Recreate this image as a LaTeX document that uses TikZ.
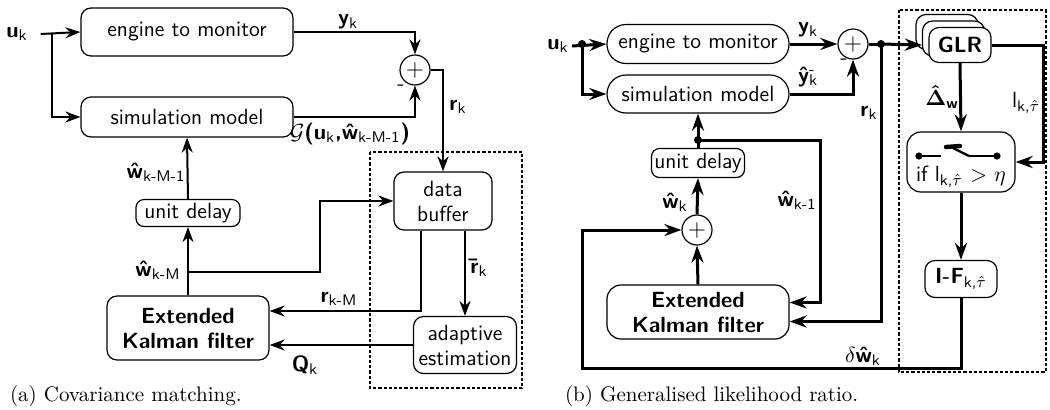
\documentclass[tikz,border=0pt]{standalone}
\usepackage{tikz}
\usetikzlibrary{arrows.meta}
\usetikzlibrary{positioning}
\usetikzlibrary{calc}
\tikzstyle{block}=[draw,fill=white,rounded corners=5pt,inner sep=1pt,align=center,line width=0.6pt]
\tikzstyle{sum}=[draw,circle,minimum size=15pt,inner sep=0pt,line width=0.6pt,font=\fontsize{13}{13}\selectfont]
\tikzstyle{sig}=[-{Stealth[length=7.5pt,width=5.5pt]}]
\tikzstyle{lab}=[inner sep=1pt]
\tikzstyle{frame}=[line width=0.6pt,dash pattern=on 1.6pt off 1pt]
\tikzstyle{heavy}=[font=\fontsize{11}{12.5}\selectfont\sffamily\bfseries]
\newcommand{\vb}[1]{{\bfseries #1}}

\begin{document}
\begin{tikzpicture}[x=0.5pt,y=-0.5pt,font=\fontsize{11}{12.5}\selectfont\sffamily]
	\useasboundingbox (0,0) rectangle (1050,409);
	% (a) covariance matching
	\begin{scope}[line width=1pt]
	\node [block,minimum width=106pt,minimum height=24pt] (enga) at (187,32) {engine to monitor};
	\node [block,minimum width=106pt,minimum height=20pt] (sima) at (187,117) {simulation model};
	\node [sum] (suma) at (415,70) {$+$};
	\node [block,minimum width=49pt,minimum height=29pt] (bufa) at (443,201) {data\\buffer};
	\node [block,minimum width=52pt,minimum height=13.5pt,rounded corners=4pt] (delaya) at (188,213) {unit delay};
	\node [block,heavy,minimum width=81pt,minimum height=32pt] (ekfa) at (188,328) {Extended\\Kalman filter};
	\node [block,minimum width=51.5pt,minimum height=28.5pt] (adapta) at (465,345) {adaptive\\estimation};
	\node [lab] (uka) at (17,34) {\vb{u}\textsubscript{k}};
	\coordinate (bra) at (52,34);
	\coordinate (bwa) at (188,272);
	\draw [sig] ([xshift=5pt]uka.east) -- (enga.west);
	\draw [sig] (bra) |- (sima.west);
	\draw [sig] (enga.east) -| (suma.north);
	\draw [sig] (sima.east) -| (suma.south);
	\draw [sig] (suma.east) -| (bufa.north);
	\draw [sig] (ekfa.north) -- (delaya.south);
	\draw [sig] (delaya.north) -- (sima.south);
	\draw [sig] (bwa) -- ++(132,0) |- (bufa.west);
	\draw [sig] ([xshift=-11pt]bufa.south) |- ([yshift=8.5pt]ekfa.east);
	\draw [sig] (adapta.north |- bufa.south) -- (adapta.north);
	\draw [sig] (adapta.west) -- (ekfa.east |- adapta.west);
	\end{scope}
	\node [lab] (lya) at (348,22) {\vb{y}\textsubscript{k}};
	\node [lab] (lga) at (350,134) {$\mathcal{G}$\vb{(u}\textsubscript{k}\vb{,\^w}\textsubscript{k-M-1}\vb{)}};
	\node [lab] (lma) at (401,88) {-};
	\node [lab] (lra) at (458,107) {\vb{r}\textsubscript{k}};
	\node [lab] (lw1a) at (156,172) {\vb{\^w}\textsubscript{k-M-1}};
	\node [lab] (lw2a) at (158,270) {\vb{\^w}\textsubscript{k-M}};
	\node [lab] (lrma) at (339,299) {\vb{r}\textsubscript{k-M}};
	\node [lab] (lrba) at (479,268) {\vb{\=r}\textsubscript{k}};
	\node [lab] (lqa) at (305,365) {\vb{Q}\textsubscript{k}};
	\draw [frame] (370,152) rectangle (522,388);
	\node [anchor=west,font=\rmfamily\fontsize{10.5}{12}\selectfont] (capa) at (3,396) {(a) Covariance matching.};

	% (b) generalised likelihood ratio
	\begin{scope}[line width=1.5pt,sig/.style={-{Stealth[length=8.5pt,width=6pt]}}]
	\node [block,minimum width=91pt,minimum height=19.5pt,rounded corners=9.5pt] (engb) at (698,44) {engine to monitor};
	\node [block,minimum width=91pt,minimum height=19pt,rounded corners=9.5pt] (simb) at (698,94) {simulation model};
	\node [block,minimum width=46.5pt,minimum height=14.5pt,rounded corners=4pt] (delayb) at (698,163) {unit delay};
	\node [sum] (sumb2) at (697,230) {$+$};
	\node [sum] (sumb1) at (853,44) {$+$};
	\node [block,heavy,minimum width=91pt,minimum height=27pt,rounded corners=7pt] (ekfb) at (698,312) {Extended\\Kalman filter};
	\node [block,minimum width=31pt,minimum height=17.5pt] (glrb2) at (947,32) {};
	\node [block,minimum width=31pt,minimum height=17.5pt] (glrb1) at (953.5,38.5) {};
	\node [block,heavy,minimum width=31pt,minimum height=17.5pt] (glr) at (960,45) {GLR};
	\node [block,minimum width=54pt,minimum height=30pt,rounded corners=7pt] (swb) at (961,162) {};
	\node [block,minimum width=36pt,minimum height=18.5pt] (ifb) at (961,279) {\vb{I-F}\textsubscript{k,$\hat\tau$}};
	\node [lab] (ukb) at (558,46) {\vb{u}\textsubscript{k}};
	\coordinate (brb) at (582,44);
	\coordinate (rdot) at (881,44);
	\coordinate (wdot) at (698,140);
	\coordinate (loop) at (582,368);
	\draw [sig] (ukb.east) -- (engb.west);
	\draw [sig] (brb) |- (simb.west);
	\draw [sig] (engb.east) -- (sumb1.west);
	\draw [sig] (simb.east) -| (sumb1.south);
	\draw (sumb1.east) -- (rdot);
	\draw [sig] (rdot) -- (glr.west -| glrb1.west);
	\draw [sig] (rdot) |- ([yshift=-4.75pt]ekfb.east);
	\draw [sig] (delayb.north) -- (simb.south);
	\draw [sig] (wdot) -- ++(122,0) |- ([yshift=4.75pt]ekfb.east);
	\draw [sig] (sumb2.north) -- (delayb.south);
	\draw [sig] (ekfb.north) -- (sumb2.south);
	\draw [sig] (glr.south) -- (swb.north);
	\draw [sig] (glr.east) -- ++(52,0) |- (swb.east);
	\draw [sig] (swb.south) -- (ifb.north);
	\draw [sig] (ifb.south) |- (loop) |- (sumb2.west);
	\end{scope}
	\foreach \p in {brb,rdot,wdot}
		\fill (\p) circle (2pt);
	% switch symbol
	\draw [line width=0.8pt] (919,156) -- (941,156) (969,156) -- (997,156);
	\fill (919,156) circle (1.8pt) (997,156) circle (1.8pt);
	\draw [line width=1.2pt] (951,147) -- (969,156);
	\draw [line width=2.2pt,line cap=round] (946,147) -- (960,146);
	\node [lab] (swtxt) at (961,177) {if l\textsubscript{k,$\hat\tau$} $>$ $\eta$};
	\node [lab] (lyb) at (808,30) {\vb{y}\textsubscript{k}};
	\node [lab] (lyhb) at (808,77) {\vb{\^y}\rlap{\textsuperscript{-}}\textsubscript{k}};
	\node [lab] (lmb) at (844,62) {-};
	\node [lab] (lrb) at (869,113) {\vb{r}\textsubscript{k}};
	\node [lab] (lwkb) at (675,202) {\vb{\^w}\textsubscript{k}};
	\node [lab] (lwk1b) at (797,200) {\vb{\^w}\textsubscript{k-1}};
	\node [lab] (ldb) at (942,97) {$\mathbf{\hat{\Delta}}$\textsubscript{\vb{w}}};
	\node [lab] (llb) at (1026,103) {l\textsubscript{k,$\hat\tau$}};
	\node [lab] (ldwb) at (863,356) {$\delta$\vb{\^w}\textsubscript{k}};
	\draw [frame] (899,10) rectangle (1046,372);
	\node [anchor=west,font=\rmfamily\fontsize{10.5}{12}\selectfont] (capb) at (558,396) {(b) Generalised likelihood ratio.};
\end{tikzpicture}
\end{document}
